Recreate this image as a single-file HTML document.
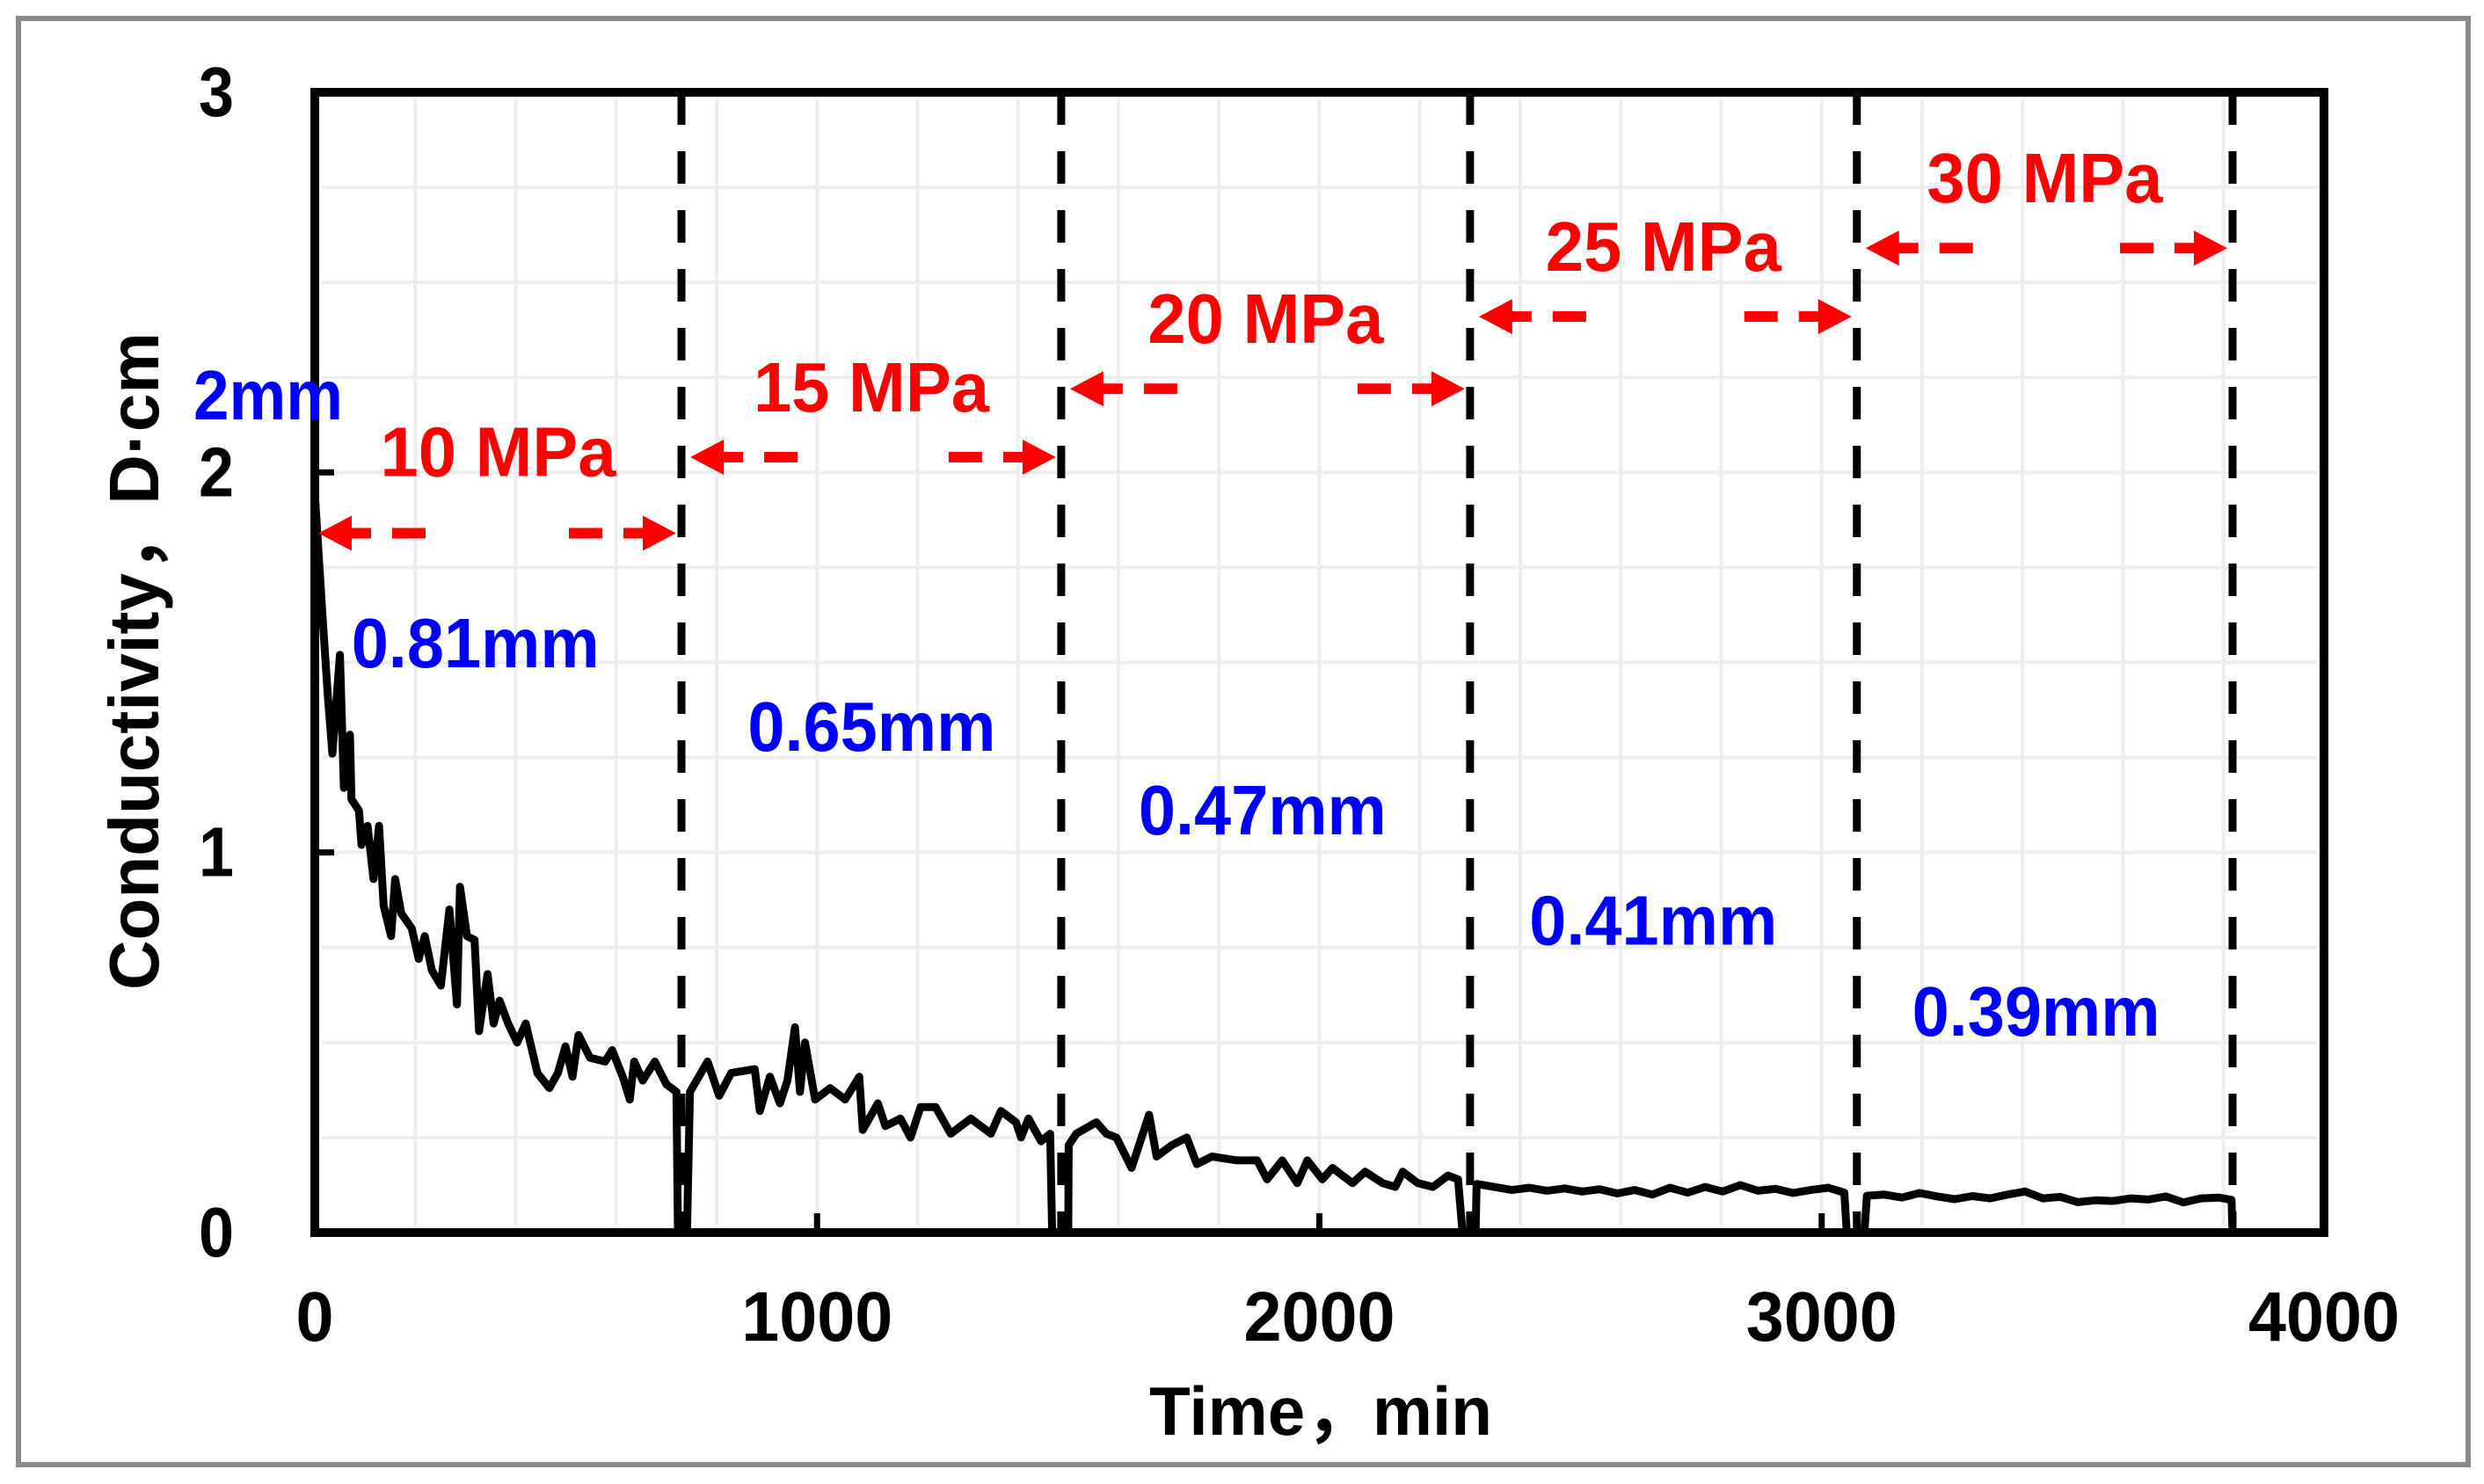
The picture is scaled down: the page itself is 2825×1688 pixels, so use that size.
<!DOCTYPE html>
<html><head><meta charset="utf-8"><style>
html,body{margin:0;padding:0;background:#fff;}
svg{display:block;}
text{font-family:"Liberation Sans","Noto Sans CJK SC",sans-serif;font-weight:bold;}
</style></head><body>
<svg id="chart" width="2825" height="1688" viewBox="0 0 2825 1688" xmlns="http://www.w3.org/2000/svg">
<rect x="21" y="21" width="2786" height="1645" fill="#fff" stroke="#8a8a8a" stroke-width="6"/>
<g id="grid"></g>
<g id="stages"></g>
<g id="series"></g>
<rect x="358" y="105" width="2285" height="1297" fill="none" stroke="#000" stroke-width="10"/>
<g id="axes"></g>
<g id="annot"></g>
<text transform="translate(180,752) rotate(-90)" text-anchor="middle" font-size="80" textLength="748" lengthAdjust="spacingAndGlyphs">Conductivity，D·cm</text>
<text x="1502" y="1632" text-anchor="middle" font-size="78" textLength="390" lengthAdjust="spacingAndGlyphs">Time，min</text>
</svg>
<script>
const xTicks=[0,1000,2000,3000,4000];
const yTicks=[0,1,2,3];
const stageBounds=[730,1486,2300,3070,3818];
const stageLabels=["10 MPa","15 MPa","20 MPa","25 MPa","30 MPa"];
const stageLabelY=[2.06,2.23,2.41,2.60,2.78];
const arrowY=[1.84,2.04,2.22,2.41,2.59];
const widthLabels=["0.81mm","0.65mm","0.47mm","0.41mm","0.39mm"];
const widthLabelY=[1.55,1.33,1.11,0.82,0.58];
const widthLabelT=[73,862,1640,2418,3180];
const times=[0,17,26,35,50,58,70,73,88,93,105,117,128,137,152,160,172,193,207,219,233,251,268,283,289,303,318,327,344,356,368,385,403,420,443,467,484,499,513,525,548,578,592,613,627,636,653,677,700,720,723,741,747,782,805,829,876,886,906,926,941,956,966,976,996,1026,1056,1084,1091,1121,1136,1166,1186,1206,1236,1266,1306,1346,1366,1396,1406,1421,1446,1464,1468,1500,1501,1516,1556,1576,1596,1626,1646,1661,1676,1706,1736,1756,1786,1836,1876,1896,1926,1956,1976,2006,2026,2066,2091,2126,2151,2166,2196,2226,2256,2276,2285,2311,2313,2348,2383,2418,2453,2488,2523,2558,2593,2628,2663,2698,2733,2768,2803,2838,2873,2908,2943,2978,3013,3045,3050,3085,3090,3125,3160,3195,3230,3265,3300,3335,3370,3405,3440,3475,3510,3545,3580,3615,3650,3685,3720,3755,3790,3816,3818];
const values=[1.945,1.59,1.41,1.26,1.52,1.17,1.31,1.14,1.11,1.02,1.07,0.93,1.07,0.86,0.78,0.93,0.84,0.80,0.72,0.78,0.69,0.65,0.85,0.60,0.91,0.78,0.77,0.53,0.68,0.55,0.61,0.55,0.50,0.55,0.42,0.38,0.42,0.49,0.41,0.52,0.46,0.45,0.48,0.41,0.35,0.45,0.40,0.45,0.39,0.37,0,0,0.37,0.45,0.36,0.42,0.43,0.32,0.41,0.34,0.40,0.54,0.37,0.50,0.35,0.38,0.35,0.41,0.27,0.34,0.28,0.30,0.25,0.33,0.33,0.26,0.30,0.26,0.32,0.29,0.25,0.30,0.24,0.26,0,0,0.23,0.26,0.29,0.26,0.25,0.17,0.25,0.31,0.20,0.23,0.25,0.18,0.20,0.19,0.19,0.14,0.19,0.13,0.19,0.14,0.17,0.13,0.16,0.13,0.12,0.16,0.13,0.12,0.15,0.14,0,0,0.128,0.12,0.112,0.118,0.11,0.116,0.108,0.114,0.103,0.112,0.10,0.118,0.105,0.12,0.108,0.125,0.11,0.115,0.104,0.112,0.118,0.105,0,0,0.097,0.10,0.092,0.104,0.095,0.088,0.096,0.09,0.10,0.108,0.09,0.094,0.08,0.085,0.083,0.09,0.087,0.095,0.079,0.09,0.092,0.086,0];

const L=358,R=2643,T=105,B=1402;
const X0=0,X1=4000,Y0=0,Y1=3;
function xs(v){return L+(v-X0)/(X1-X0)*(R-L);}
function ys(v){return B-(v-Y0)/(Y1-Y0)*(B-T);}
const NS="http://www.w3.org/2000/svg";
function mk(tag,parent,attrs){const e=document.createElementNS(NS,tag);for(const k in attrs)e.setAttribute(k,attrs[k]);parent.appendChild(e);return e;}

const grid=document.getElementById('grid');
for(let t=200;t<4000;t+=200){
  const g=mk('line',grid,{x1:xs(t),x2:xs(t),y1:T+8,y2:B-8,stroke:'#ededed','stroke-width':4});
  
  
}
for(let v=0.25;v<3;v+=0.25){
  const g=mk('line',grid,{x1:L+8,x2:R-8,y1:ys(v),y2:ys(v),stroke:'#ededed','stroke-width':4});
  
  
}

const stages=document.getElementById('stages');
stageBounds.forEach(b=>{
  const l=mk('line',stages,{x1:xs(b),x2:xs(b),y1:T,y2:B,stroke:'#000','stroke-width':9,'stroke-dasharray':'37 30'});
  
  
});

const series=document.getElementById('series');
let d='';
times.forEach((t,i)=>{d+=(i?'L':'M')+xs(t).toFixed(1)+' '+ys(values[i]).toFixed(1);});
const p=mk('path',series,{d:d,fill:'none',stroke:'#000','stroke-width':9,'stroke-linejoin':'round'});



const axes=document.getElementById('axes');
xTicks.forEach(t=>{
  if(t>0&&t<4000){
    const k=mk('line',axes,{x1:xs(t),x2:xs(t),y1:B,y2:B-22,stroke:'#000','stroke-width':7});
    
    
  }
  const s=String(t);
  const tx=mk('text',axes,{x:xs(t),y:1525,'text-anchor':'middle','font-size':80,textLength:s.length*43,lengthAdjust:'spacingAndGlyphs'});
  tx.textContent=s;
  
  
});
yTicks.forEach(v=>{
  if(v>0&&v<3){
    const k=mk('line',axes,{x1:L,x2:L+22,y1:ys(v),y2:ys(v),stroke:'#000','stroke-width':7});
    
    
  }
  const tx=mk('text',axes,{x:266,y:ys(v)+27,'text-anchor':'end','font-size':80,textLength:40,lengthAdjust:'spacingAndGlyphs'});
  tx.textContent=String(v);
  
  
});

const annot=document.getElementById('annot');
const starts=[0].concat(stageBounds.slice(0,4));
stageLabels.forEach((lab,i)=>{
  const a=xs(starts[i])+(i?10:4), b=xs(stageBounds[i])-6, y=ys(arrowY[i]);
  const g=mk('g',annot,{fill:'#f00',stroke:'none'});
  
  
  mk('polygon',g,{points:`${a},${y} ${a+38},${y-20} ${a+38},${y+20}`});
  mk('rect',g,{x:a+36,y:y-6,width:24,height:12});
  mk('rect',g,{x:a+84,y:y-6,width:38,height:12});
  mk('polygon',g,{points:`${b},${y} ${b-38},${y-20} ${b-38},${y+20}`});
  mk('rect',g,{x:b-60,y:y-6,width:24,height:12});
  mk('rect',g,{x:b-122,y:y-6,width:38,height:12});
  const mid=(xs(starts[i])+xs(stageBounds[i]))/2;
  const tx=mk('text',annot,{x:mid,y:ys(stageLabelY[i])+30,'text-anchor':'middle','font-size':80,fill:'#f00',textLength:268,lengthAdjust:'spacingAndGlyphs'});
  tx.textContent=lab;
  
  
  const w=mk('text',annot,{x:xs(widthLabelT[i]),y:ys(widthLabelY[i])+27,'text-anchor':'start','font-size':80,fill:'#00f',textLength:282,lengthAdjust:'spacingAndGlyphs'});
  w.textContent=widthLabels[i];
  
  
});
const t2=mk('text',annot,{x:220,y:477,'font-size':80,fill:'#00f',textLength:170,lengthAdjust:'spacingAndGlyphs'});
t2.textContent='2mm';


</script>
</body></html>
